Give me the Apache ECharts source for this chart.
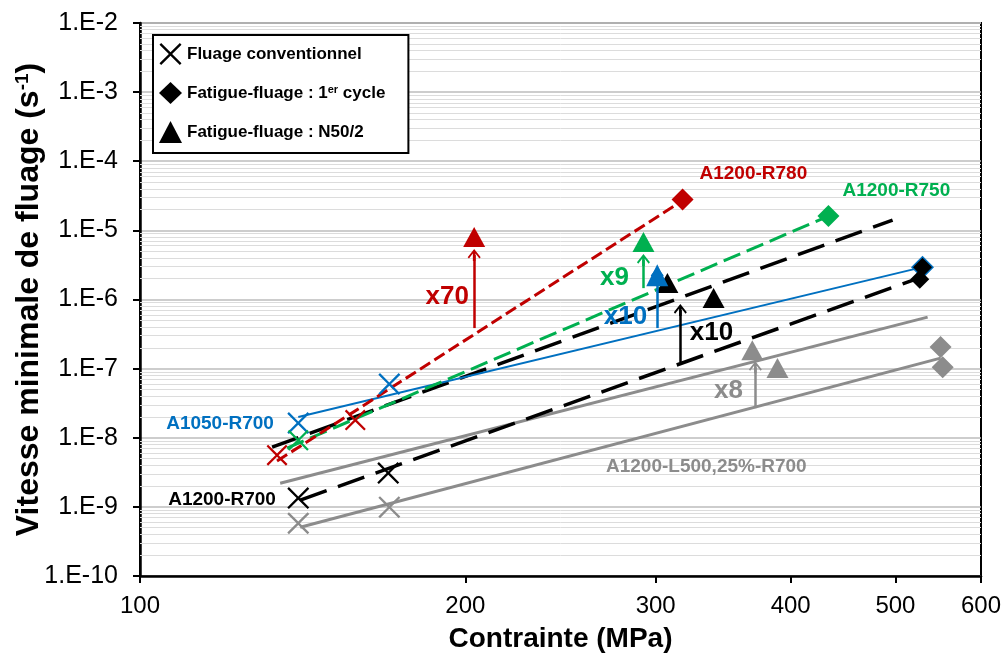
<!DOCTYPE html>
<html>
<head>
<meta charset="utf-8">
<script src="https://cdn.jsdelivr.net/npm/echarts@6/dist/echarts.min.js"></script>
<style>html,body{margin:0;padding:0;background:#fff}#chart{width:1001px;height:655px}</style>
</head>
<body>
<div id="chart"></div>
<script>
// axe des contraintes (MPa)
var xTicks = [100, 200, 300, 400, 500, 600];

// A1200-R780
var r780Fluage = [[133.9, 5.6e-9], [158.2, 1.8e-8]];
var r780Cycle1 = [[317.7, 2.8e-5]];
var r780N50 = [[203.8, 8.0e-6]];
var r780Fit = [[133.9, 4.6e-9], [318.3, 2.75e-5]];

// A1200-R750
var r750Fluage = [[140.1, 9.2e-9]];
var r750Cycle1 = [[433.5, 1.61e-5]];
var r750N50 = [[292.3, 6.8e-6]];
var r750Fit = [[136.8, 7.1e-9], [433.5, 1.61e-5]];

// A1050-R700
var a1050Fluage = [[140.1, 1.63e-8], [170.1, 5.97e-8]];
var a1050Cycle1 = [[529.7, 2.94e-6]];
var a1050N50 = [[301, 2.25e-6]];
var a1050Fit = [[140.1, 1.99e-8], [529.7, 2.94e-6]];

// A1200-R700
var r700Fluage = [[140.1, 1.34e-9], [169.7, 3.08e-9]];
var r700Cycle1 = [[526.6, 1.97e-6], [529.7, 2.94e-6]];
var r700N50 = [[307.6, 1.73e-6], [339.4, 1.05e-6]];
var r700Fit = [[140.7, 1.25e-9], [525.4, 2.04e-6]];
var r700FitN50 = [[132.5, 7.31e-9], [497, 1.41e-5]];

// A1200-L500,25%-R700
var l500Fluage = [[140.1, 5.8e-10], [170.1, 9.9e-10]];
var l500Cycle1 = [[550.5, 2.05e-7], [553, 1.05e-7]];
var l500N50 = [[368.6, 1.85e-7], [388.9, 1.02e-7]];
var l500Fit = [[140.7, 5.08e-10], [550.5, 1.42e-7]];
var l500FitN50 = [[134.8, 2.2e-9], [535.5, 5.56e-7]];

// facteurs d'accélération : [contrainte, vitesse bas, vitesse haut]
var facteurNoms = ['x70', 'x9', 'x10', 'x10', 'x8'];
var facteurFleches = [[203.8, 3.86e-7, 4.4e-6], [292.3, 1.46e-6, 3.72e-6], [301, 3.86e-7, 2.41e-6], [316.2, 1.24e-7, 7.03e-7], [371, 2.68e-8, 1.05e-7]];
var facteurTextes = [[192.4, 1.08e-6], [274.8, 2.04e-6], [281.3, 5.56e-7], [337.9, 3.27e-7], [350.4, 4.72e-8]];

// noms des matériaux
var materiaux = ['A1200-R780', 'A1200-R750', 'A1050-R700', 'A1200-R700', 'A1200-L500,25%-R700'];
var materiauxTextes = [[369.4, 6.53e-5], [501, 3.71e-5], [118.6, 1.57e-8], [119.1, 1.25e-9], [334.2, 3.76e-9]];

var FONT = 'Liberation Sans, Arial, sans-serif';
var ROUGE = '#c00000', VERT = '#00b050', BLEU = '#0070c0', NOIR = '#000000', GRIS = '#8c8c8c';
var CROIX = 'path://M0,1.5L1.5,0L10,8.5L18.5,0L20,1.5L11.5,10L20,18.5L18.5,20L10,11.5L1.5,20L0,18.5L8.5,10Z';
var FLECHE = 'path://M6,0L12,7.6L10.8,8.8L7.2,4.2L7.2,11L4.8,11L4.8,4.2L1.2,8.8L0,7.6Z';

var myChart = echarts.init(document.getElementById('chart'));

// lignes secondaires du quadrillage (2..9 par décade)
var minorLines = [];
for (var e = -10; e < -2; e++) {
    for (var m = 2; m <= 9; m++) {
        var v = m * Math.pow(10, e);
        minorLines.push([{coord: [100, v]}, {coord: [600, v]}]);
    }
}

function fit(data, color, width, dash) {
    return {
        type: 'line', data: data, symbol: 'none', silent: true, z: 2,
        lineStyle: {color: color, width: width, type: dash}
    };
}

function points(data, symbol, size, color) {
    return {
        type: 'scatter', data: data, symbol: symbol, symbolSize: size, silent: true, z: 3, clip: false,
        itemStyle: {color: color, opacity: 1}
    };
}

function textes(pts, noms, couleurs, size) {
    return {
        type: 'scatter', silent: true, z: 7, clip: false, symbolSize: 1,
        itemStyle: {color: 'rgba(0,0,0,0)', opacity: 1},
        data: pts.map(function (p, i) {
            return {value: p, name: noms[i], label: {color: couleurs[i]}};
        }),
        label: {show: true, position: 'inside', formatter: '{b}', fontSize: size, fontWeight: 'bold', fontFamily: FONT}
    };
}

var couleurs = [ROUGE, VERT, BLEU, NOIR, GRIS];

var option = {
    animation: false,
    backgroundColor: '#fff',
    grid: {left: 140, right: 20, top: 23, bottom: 79, show: true, borderColor: '#000', borderWidth: 2, outerBoundsMode: 'none'},
    legend: {
        orient: 'vertical', left: 153, top: 35,
        data: [
            {name: 'Fluage conventionnel', icon: CROIX},
            {name: 'Fatigue-fluage : 1er cycle', icon: 'diamond'},
            {name: 'Fatigue-fluage : N50/2', icon: 'triangle'}
        ],
        itemWidth: 23, itemHeight: 22, itemGap: 17,
        padding: [8, 23, 10, 6],
        backgroundColor: '#fff', borderColor: '#000', borderWidth: 2, borderRadius: 0,
        selectedMode: false,
        textStyle: {
            fontFamily: FONT, fontSize: 17, fontWeight: 'bold', color: '#000',
            rich: {sup: {fontSize: 11, fontWeight: 'bold', verticalAlign: 'top', fontFamily: FONT, color: '#000'}}
        },
        formatter: function (name) {
            return name === 'Fatigue-fluage : 1er cycle' ? 'Fatigue-fluage : 1{sup|er} cycle' : name;
        }
    },
    xAxis: {
        type: 'log', min: 100, max: 600,
        name: 'Contrainte (MPa)', nameLocation: 'middle', nameGap: 49, nameMoveOverlap: false,
        nameTextStyle: {fontSize: 28, fontWeight: 'bold', color: '#000', fontFamily: FONT},
        axisLine: {lineStyle: {color: '#000', width: 2.5}},
        axisTick: {show: true, length: 7, customValues: xTicks, lineStyle: {color: '#000', width: 2}},
        axisLabel: {customValues: xTicks, margin: 18, fontSize: 24, color: '#000', fontFamily: FONT,
            formatter: function (v) { return String(Math.round(v)); }},
        splitLine: {show: false}
    },
    yAxis: {
        type: 'log', logBase: 10, min: 1e-10, max: 1e-2,
        name: '{t|Vitesse minimale de fluage (s}{s|-1}{t|)}', nameLocation: 'middle', nameGap: 95, nameMoveOverlap: false,
        nameTextStyle: {rich: {
            t: {fontSize: 32, fontWeight: 'bold', fontFamily: FONT, color: '#000'},
            s: {fontSize: 19, fontWeight: 'bold', verticalAlign: 'top', fontFamily: FONT, color: '#000'}
        }},
        axisLine: {show: true, lineStyle: {color: '#000', width: 2.5}},
        axisTick: {show: true, length: 7, lineStyle: {color: '#000', width: 2}},
        axisLabel: {margin: 22, fontSize: 25, color: '#000', fontFamily: FONT,
            formatter: function (v) { return '1.E' + Math.round(Math.log10(v)); }},
        splitLine: {show: true, lineStyle: {color: '#bdbdbd', width: 1.5}}
    },
    series: [
        // quadrillage secondaire
        {type: 'line', data: [], silent: true, z: 1,
            markLine: {silent: true, z: 1, symbol: ['none', 'none'], label: {show: false}, animation: false,
                lineStyle: {color: '#dcdcdc', width: 1, type: 'solid'}, data: minorLines}},
        // entrées de légende
        {name: 'Fluage conventionnel', type: 'scatter', data: [], symbol: CROIX, itemStyle: {color: '#000', opacity: 1}},
        {name: 'Fatigue-fluage : 1er cycle', type: 'scatter', data: [], symbol: 'diamond', itemStyle: {color: '#000', opacity: 1}},
        {name: 'Fatigue-fluage : N50/2', type: 'scatter', data: [], symbol: 'triangle', itemStyle: {color: '#000', opacity: 1}},

        // droites
        fit(l500Fit, GRIS, 3, 'solid'),
        fit(l500FitN50, GRIS, 3, 'solid'),
        fit(r700Fit, NOIR, 3.5, [28, 12]),
        fit(r700FitN50, NOIR, 3.5, [28, 12]),
        fit(a1050Fit, BLEU, 2, 'solid'),
        fit(r750Fit, VERT, 3, [18, 7]),
        fit(r780Fit, ROUGE, 3, [12, 5]),

        // points
        points(l500Fluage, CROIX, 22, GRIS),
        points(l500Cycle1, 'diamond', 22, GRIS),
        points(l500N50, 'triangle', [22, 20], GRIS),
        points(r700Fluage, CROIX, 22, NOIR),
        points(r700N50, 'triangle', [22, 20], NOIR),
        points(a1050Fluage, CROIX, 22, BLEU),
        points(a1050Cycle1, 'diamond', 23, BLEU),
        points(a1050N50, 'triangle', [22, 22], BLEU),
        points(r700Cycle1, 'diamond', 19, NOIR),
        points(r750Fluage, CROIX, 21, VERT),
        points(r750Cycle1, 'diamond', 22, VERT),
        points(r750N50, 'triangle', [22, 20], VERT),
        points(r780Fluage, CROIX, 21, ROUGE),
        points(r780Cycle1, 'diamond', 22, ROUGE),
        points(r780N50, 'triangle', [22, 20], ROUGE),

        // flèches des facteurs
        {type: 'line', data: [], silent: true, z: 5,
            markLine: {silent: true, z: 5, symbol: ['none', FLECHE], symbolSize: [13, 12], label: {show: false}, animation: false,
                data: facteurFleches.map(function (f, i) {
                    return [{coord: [f[0], f[1]], lineStyle: {color: couleurs[i], width: 2.5, type: 'solid'}}, {coord: [f[0], f[2]]}];
                })}},

        textes(facteurTextes, facteurNoms, couleurs, 26),
        textes(materiauxTextes, materiaux, couleurs, 19)
    ]
};

myChart.setOption(option);
</script>
</body>
</html>
